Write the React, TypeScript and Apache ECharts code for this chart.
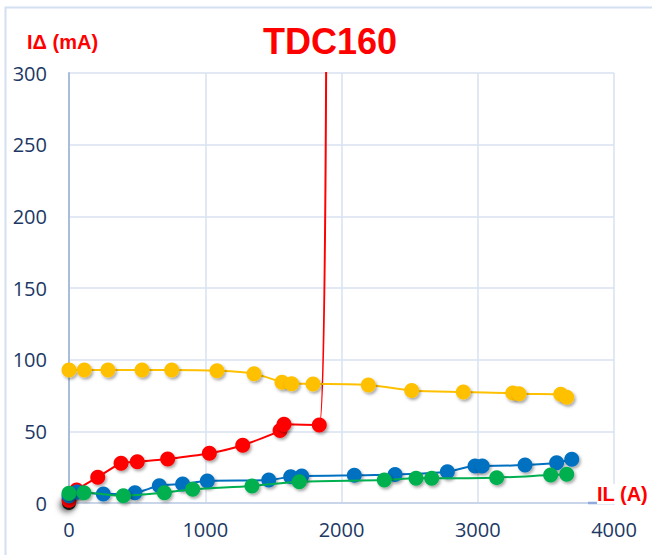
import React, { useEffect, useRef } from "react";
import * as echarts from "echarts";

const title = "TDC160";
const yAxisName = "IΔ (mA)";
const xAxisName = "IL (A)";

const xTicks = [0, 1000, 2000, 3000, 4000];
const yTicks = [0, 50, 100, 150, 200, 250, 300];

const redX = [0, 56, 211, 382, 501, 724, 1030, 1275, 1549, 1578, 1837, 1890];
const redY = [2, 9, 18, 27.7, 28.8, 30.7, 34.7, 40.3, 50.5, 55, 54.4, 420];

const yellowX = [0, 112, 286, 536, 754, 1086, 1358, 1563, 1634, 1791, 2197, 2515, 2894, 3257, 3303, 3609, 3653];
const yellowY = [92.8, 92.8, 92.8, 92.8, 92.8, 92.3, 90.2, 84.3, 83.2, 83.1, 82.4, 78.5, 77.4, 76.7, 76.2, 75.9, 73.8];

const blueX = [0, 59, 252, 484, 663, 834, 1015, 1466, 1627, 1708, 2094, 2393, 2777, 2980, 3033, 3347, 3579, 3690];
const blueY = [5, 7.7, 6.3, 7.2, 12, 13.3, 15.4, 16, 18.4, 18.8, 19.3, 19.8, 21.8, 25.8, 25.8, 26.5, 28.1, 30.5];

const greenX = [0, 110, 399, 700, 908, 1343, 1690, 2314, 2547, 2662, 3139, 3535, 3653];
const greenY = [6.8, 7.2, 5.1, 7.2, 9.6, 11.9, 14.9, 16, 17.2, 17.2, 17.7, 19.5, 20];

const blackX = [0];
const blackY = [0];

const zip = (xs: number[], ys: number[]) => xs.map((x, i) => [x, ys[i]]);

const shadow = {
  shadowColor: "rgba(0,0,0,0.35)",
  shadowBlur: 3,
  shadowOffsetX: 1.5,
  shadowOffsetY: 2,
};

function mk(name: string, color: string, xs: number[], ys: number[], z: number, smooth = 0.3) {
  return {
    name,
    type: "line",
    data: zip(xs, ys),
    smooth,
    symbol: "circle",
    symbolSize: 15,
    z,
    lineStyle: { color, width: 2 },
    itemStyle: { color, ...shadow },
    clip: true,
  };
}

export default function App() {
  const ref = useRef<HTMLDivElement>(null);
  useEffect(() => {
    document.body.style.margin = "0";
    if (!ref.current) return;
    const chart = echarts.init(ref.current, null, { renderer: "svg" });
    const font = "'Open Sans', sans-serif";
    chart.setOption({
      animation: false,
      backgroundColor: "#ffffff",
      grid: { left: 69, top: 73, width: 545, height: 430, containLabel: false },
      xAxis: {
        type: "value",
        min: xTicks[0],
        max: xTicks[xTicks.length - 1],
        interval: 1000,
        axisLine: { show: true, lineStyle: { color: "#C9D5E8", width: 2 } },
        axisTick: { show: false },
        splitLine: { show: true, lineStyle: { color: "#D9E2F1", width: 1.5 } },
        axisLabel: { color: "#203864", fontSize: 20, fontFamily: font, margin: 16, formatter: (v: number) => String(v) },
      },
      yAxis: {
        type: "value",
        min: yTicks[0],
        max: yTicks[yTicks.length - 1],
        interval: 50,
        axisLine: { show: true, lineStyle: { color: "#A9BCDC", width: 2 } },
        axisTick: { show: false },
        splitLine: { show: true, lineStyle: { color: "#D9E2F1", width: 1.5 } },
        axisLabel: { color: "#203864", fontSize: 20, fontFamily: font, margin: 22, formatter: (v: number) => String(v) },
      },
      graphic: [
        {
          type: "rect",
          shape: { x: 5.5, y: 7.5, width: 700, height: 600 },
          style: { fill: "none", stroke: "#D3E0F2", lineWidth: 2 },
          silent: true,
          z: -10,
        },
        {
          type: "line",
          shape: { x1: 588, y1: 503, x2: 615, y2: 503 },
          style: { stroke: "#8FAADC", lineWidth: 2.5 },
          z: 10,
        },
        {
          type: "text",
          x: 330,
          y: 41,
          style: {
            text: title,
            fill: "#FF0000",
            font: "bold 36px 'Liberation Sans', Arial, sans-serif",
            textAlign: "center",
            textVerticalAlign: "middle",
          },
        },
        {
          type: "text",
          x: 27,
          y: 42,
          style: {
            text: yAxisName,
            fill: "#FF0000",
            font: "bold 20px 'Liberation Sans', Arial, sans-serif",
            textAlign: "left",
            textVerticalAlign: "middle",
          },
        },
        {
          type: "text",
          x: 597,
          y: 494,
          style: {
            text: xAxisName,
            fill: "#FF0000",
            font: "bold 20px 'Liberation Sans', Arial, sans-serif",
            textAlign: "left",
            textVerticalAlign: "middle",
            backgroundColor: "#ffffff",
          },
          z: 20,
        },
      ],
      series: [
        {
          name: "black",
          type: "scatter",
          data: zip(blackX, blackY),
          symbol: "circle",
          symbolSize: 14,
          z: 1,
          itemStyle: { color: "#000000", shadowColor: "rgba(0,0,0,0.8)", shadowBlur: 6, shadowOffsetX: -2, shadowOffsetY: 2 },
          clip: false,
        },
        mk("red", "#FF0000", redX, redY, 2, 0.2),
        mk("yellow", "#FFC000", yellowX, yellowY, 3),
        mk("blue", "#0070C0", blueX, blueY, 4),
        mk("green", "#00B050", greenX, greenY, 5),
      ],
    });
    return () => chart.dispose();
  }, []);
  return <div ref={ref} style={{ width: 652, height: 555 }} />;
}
